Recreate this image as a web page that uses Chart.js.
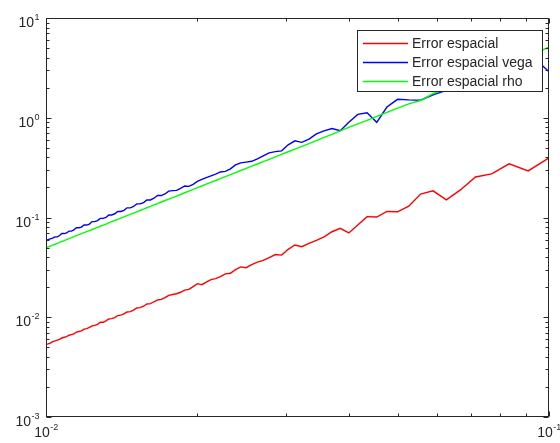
<!DOCTYPE html>
<html>
<head>
<meta charset="utf-8">
<script src="https://cdn.jsdelivr.net/npm/chart.js@4.4.1/dist/chart.umd.min.js"></script>
<style>
  body { margin: 0; background: #fff; }
  canvas { display: block; }
</style>
</head>
<body>
<canvas id="errorChart" width="560" height="443"></canvas>
<script>
// paso h (de 0.1 a 0.01)
const h = [
  0.1, 0.09091, 0.08333, 0.07692, 0.07143, 0.06667, 0.0625, 0.05882, 0.05556, 0.05263,
  0.05, 0.04762, 0.04545, 0.04348, 0.04167, 0.04, 0.03846, 0.03704, 0.03571, 0.03448,
  0.03333, 0.03226, 0.03125, 0.0303, 0.02941, 0.02857, 0.02778, 0.02703, 0.02632, 0.02564,
  0.025, 0.02439, 0.02381, 0.02326, 0.02273, 0.02222, 0.02174, 0.02128, 0.02083, 0.02041,
  0.02, 0.01961, 0.01923, 0.01887, 0.01852, 0.01818, 0.01786, 0.01754, 0.01724, 0.01695,
  0.01667, 0.01639, 0.01613, 0.01587, 0.01563, 0.01538, 0.01515, 0.01493, 0.01471, 0.01449,
  0.01429, 0.01408, 0.01389, 0.0137, 0.01351, 0.01333, 0.01316, 0.01299, 0.01282, 0.01266,
  0.0125, 0.01235, 0.0122, 0.01205, 0.0119, 0.01176, 0.01163, 0.01149, 0.01136, 0.01124,
  0.01111, 0.01099, 0.01087, 0.01075, 0.01064, 0.01053, 0.01042, 0.01031, 0.0102, 0.0101,
  0.01
];

const errorEspacial = [
  0.396, 0.293, 0.345, 0.274, 0.255, 0.189, 0.150, 0.185, 0.172, 0.130,
  0.114, 0.115, 0.101, 0.102, 0.084, 0.070, 0.078, 0.072, 0.064, 0.059,
  0.055, 0.051, 0.053, 0.048, 0.042, 0.0425, 0.0397, 0.0371, 0.0357, 0.0337,
  0.0314, 0.0320, 0.0300, 0.0276, 0.0272, 0.0255, 0.0244, 0.0238, 0.0225, 0.0212,
  0.0217, 0.0203, 0.0190, 0.0187, 0.0178, 0.0172, 0.0169, 0.0166, 0.0157, 0.0151,
  0.0149, 0.0143, 0.0137, 0.0136, 0.0129, 0.0125, 0.0124, 0.0118, 0.0114, 0.0113,
  0.0108, 0.0105, 0.0104, 0.0099, 0.0097, 0.0096, 0.0092, 0.0089, 0.0089, 0.0085,
  0.0083, 0.0082, 0.0079, 0.0077, 0.0076, 0.0073, 0.0072, 0.0071, 0.0068, 0.0067,
  0.0066, 0.0064, 0.0063, 0.0062, 0.0060, 0.0059, 0.0058, 0.0057, 0.0055, 0.0054,
  0.00535
];

const errorVega = [
  2.9, 4.5, 3.6, 2.9, 2.5, 2.15, 1.88, 1.70, 1.50, 1.51,
  1.53, 1.28, 0.90, 1.12, 1.08, 0.90, 0.74, 0.78, 0.74, 0.69,
  0.61, 0.567, 0.587, 0.535, 0.466, 0.457, 0.445, 0.415, 0.387, 0.366,
  0.359, 0.353, 0.337, 0.307, 0.290, 0.286, 0.272, 0.261, 0.251, 0.241,
  0.230, 0.215, 0.205, 0.207, 0.196, 0.187, 0.186, 0.184, 0.172, 0.166,
  0.166, 0.156, 0.150, 0.150, 0.141, 0.137, 0.137, 0.129, 0.125, 0.125,
  0.118, 0.115, 0.115, 0.109, 0.106, 0.106, 0.100, 0.098, 0.098, 0.093,
  0.091, 0.091, 0.086, 0.084, 0.084, 0.080, 0.079, 0.079, 0.075, 0.073,
  0.073, 0.070, 0.069, 0.069, 0.066, 0.064, 0.064, 0.062, 0.061, 0.060,
  0.059
];

const errorRho = [
  5.1, 4.15, 3.5, 2.97, 2.56, 2.23, 1.96, 1.74, 1.49, 1.38,
  1.25, 1.13, 1.03, 0.94, 0.87, 0.80, 0.74, 0.68, 0.635, 0.59,
  0.55, 0.517, 0.485, 0.456, 0.430, 0.406, 0.383, 0.363, 0.344, 0.327,
  0.311, 0.296, 0.282, 0.269, 0.257, 0.245, 0.235, 0.225, 0.216, 0.207,
  0.199, 0.191, 0.184, 0.177, 0.170, 0.164, 0.158, 0.153, 0.148, 0.143,
  0.138, 0.1336, 0.1293, 0.1252, 0.1213, 0.1176, 0.1141, 0.1107, 0.1075, 0.1044,
  0.1014, 0.0986, 0.0959, 0.0933, 0.0908, 0.0884, 0.0860, 0.0838, 0.0817, 0.0796,
  0.0777, 0.0758, 0.0739, 0.0721, 0.0704, 0.0688, 0.0672, 0.0657, 0.0642, 0.0627,
  0.0614, 0.0600, 0.0587, 0.0575, 0.0562, 0.0551, 0.0539, 0.0528, 0.0517, 0.0507,
  0.0497
];

const seriesLabels = ['Error espacial', 'Error espacial vega', 'Error espacial rho'];
const seriesColors = ['#ff0000', '#0000ff', '#00ff00'];

const xTicks = [0.01, 0.1];
const xTickExp = ['-2', '-1'];
const yTicks = [0.001, 0.01, 0.1, 1, 10];
const yTickExp = ['-3', '-2', '-1', '0', '1'];

const axisColor = '#262626';
const fontFamily = '"Liberation Sans", Arial, sans-serif';

function pts(ys) {
  return h.map((v, i) => ({ x: v, y: ys[i] }));
}

// draws "10" with a small exponent; anchor 'right' or 'center'
function drawPow(ctx, exp, x, yBase, anchor) {
  ctx.font = '14px ' + fontFamily;
  const wb = ctx.measureText('10').width;
  ctx.font = '9px ' + fontFamily;
  const we = ctx.measureText(exp).width;
  const total = wb + we;
  let start = anchor === 'right' ? x - total : x - total / 2;
  ctx.textAlign = 'left';
  ctx.textBaseline = 'alphabetic';
  ctx.font = '14px ' + fontFamily;
  ctx.fillText('10', start, yBase);
  ctx.font = '9px ' + fontFamily;
  ctx.fillText(exp, start + wb + 0.5, yBase - 7);
}

const matlabAxes = {
  id: 'matlabAxes',
  afterDatasetsDraw(chart) {
    const { ctx, chartArea: a, scales: { x, y } } = chart;
    const L = Math.round(a.left) + 0.5, R = Math.round(a.right) - 0.5;
    const T = Math.round(a.top) + 0.5, B = Math.round(a.bottom) - 0.5;
    ctx.save();
    ctx.strokeStyle = axisColor;
    ctx.lineWidth = 1;
    ctx.beginPath();
    // y ticks, inward on left and right
    for (let e = -3; e <= 1; e++) {
      for (let k = 1; k <= 9; k++) {
        const v = k * Math.pow(10, e);
        if (v > 10.0001) break;
        const py = Math.round(y.getPixelForValue(v)) + 0.5;
        const len = k === 1 ? 5 : 3;
        ctx.moveTo(L, py); ctx.lineTo(L + len, py);
        ctx.moveTo(R, py); ctx.lineTo(R - len, py);
      }
    }
    // x ticks, inward on bottom and top
    for (let k = 1; k <= 10; k++) {
      const v = k * 0.01;
      const px = Math.round(x.getPixelForValue(v)) + 0.5;
      const len = (k === 1 || k === 10) ? 5 : 3;
      ctx.moveTo(px, B); ctx.lineTo(px, B - len);
      ctx.moveTo(px, T); ctx.lineTo(px, T + len);
    }
    ctx.stroke();
    ctx.strokeRect(L, T, R - L, B - T);

    // tick labels
    ctx.fillStyle = axisColor;
    yTicks.forEach((v, i) => {
      const py = y.getPixelForValue(v);
      drawPow(ctx, yTickExp[i], a.left - 7, py + 9, 'right');
    });
    xTicks.forEach((v, i) => {
      const px = x.getPixelForValue(v);
      drawPow(ctx, xTickExp[i], px, a.bottom + 20, 'center');
    });

    // legend box
    const bx = 357.5, by = 30.5, bw = 185, bh = 61;
    ctx.fillStyle = '#ffffff';
    ctx.fillRect(bx, by, bw, bh);
    ctx.strokeStyle = axisColor;
    ctx.lineWidth = 1;
    ctx.strokeRect(bx, by, bw, bh);
    ctx.font = '14px ' + fontFamily;
    ctx.textAlign = 'left';
    ctx.textBaseline = 'middle';
    seriesLabels.forEach((lab, i) => {
      const ry = 43.5 + i * 19;
      ctx.strokeStyle = seriesColors[i];
      ctx.lineWidth = 1.4;
      ctx.beginPath();
      ctx.moveTo(363, ry); ctx.lineTo(408, ry);
      ctx.stroke();
      ctx.fillStyle = axisColor;
      ctx.fillText(lab, 412, ry + 0.5);
    });
    ctx.restore();
  }
};

const ctx = document.getElementById('errorChart').getContext('2d');

const config = {
  type: 'line',
  data: {
    datasets: [
      { label: seriesLabels[0], data: pts(errorEspacial), borderColor: seriesColors[0], order: 3 },
      { label: seriesLabels[1], data: pts(errorVega), borderColor: seriesColors[1], order: 2 },
      { label: seriesLabels[2], data: pts(errorRho), borderColor: seriesColors[2], order: 1 }
    ]
  },
  options: {
    responsive: false,
    animation: false,
    layout: { padding: { left: 46, right: 11, top: 18, bottom: 26 } },
    elements: {
      line: { borderWidth: 1.4, tension: 0, fill: false },
      point: { radius: 0 }
    },
    plugins: { legend: { display: false }, tooltip: { enabled: false } },
    scales: {
      x: { type: 'logarithmic', min: 0.01, max: 0.1, display: false },
      y: { type: 'logarithmic', min: 0.001, max: 10, display: false }
    }
  },
  plugins: [matlabAxes]
};

const errorChart = new Chart(ctx, config);
</script>
</body>
</html>
